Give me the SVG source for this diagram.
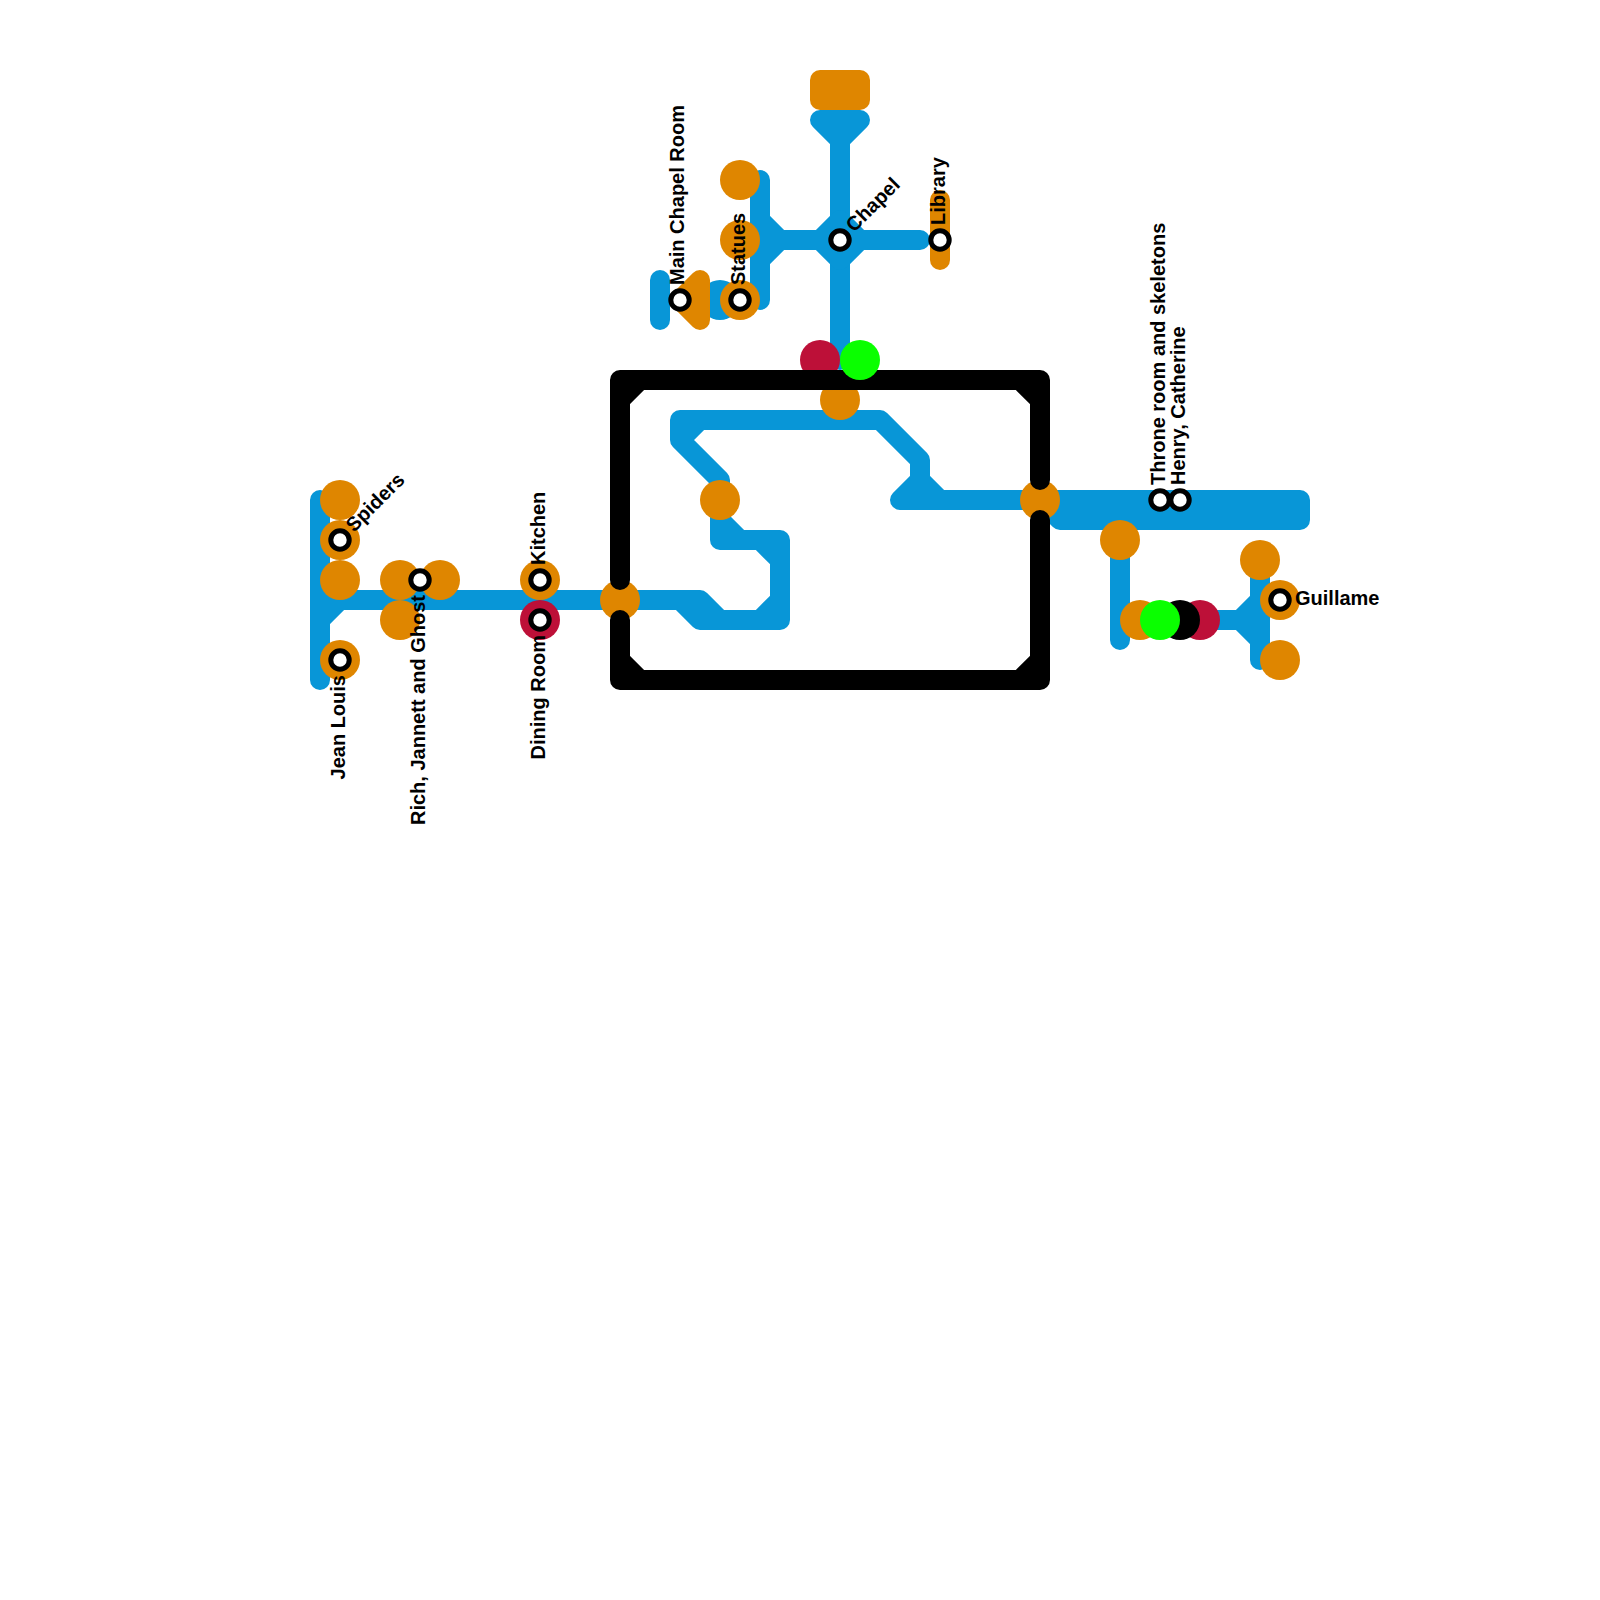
<svg xmlns="http://www.w3.org/2000/svg" width="1600" height="1600" viewBox="0 0 1600 1600">
<defs><style>
.l{fill:none;stroke-width:20;stroke-linecap:round;stroke-linejoin:round}
.b{stroke:#0896d7}.o{stroke:#df8600}.k{stroke:#000}
.co{fill:#df8600}.cr{fill:#bd1038}.cg{fill:#0aff00}.ck{fill:#000}.cb{fill:#0896d7}
.st{fill:#fff;stroke:#000;stroke-width:5}
text{font-family:"Liberation Sans",Arial,sans-serif;font-weight:bold;font-size:20px;fill:#000}
</style></defs>
<rect width="1600" height="1600" fill="#fff"/>
<g id="connectors-blue">
<circle class="cb" cx="720" cy="300" r="20"/>
<path class="l b" d="M660 280V320"/>
<path class="l b" d="M820 120H860L840 140ZM840 120V360"/>
<path class="l b" d="M760 180V300M760 220L780 240L760 260M760 240H920M840 220L820 240L840 260L860 240Z"/>
<path class="l b" d="M320 500V680M320 600H700L720 620H780V540H720V480L680 440V420H880L920 460V480L900 500H1040M340 600L320 620M680 600L700 620H720M780 600L760 620M760 540L780 560M720 520L740 540M700 420L680 440M920 480L940 500"/>
<path class="l b" d="M1040 500H1300V520H1060ZM1120 540V640M1200 620H1240L1260 600M1240 620L1260 640M1260 560V660"/>
</g>
<g id="connectors-orange">
<path class="l o co" d="M820 80H860V100H820Z" style="fill:#df8600"/>
<path class="l o co" d="M700 280L680 300L700 320Z" style="fill:#df8600"/>
<path class="l o" d="M940 200V260"/>
</g>
<g id="node-top-red"><circle class="cr" cx="820" cy="360" r="20"/></g>
<g id="node-top-orange"><circle class="co" cx="840" cy="400" r="20"/></g>
<g id="node-west-gate"><circle class="co" cx="620" cy="600" r="20"/></g>
<g id="node-east-gate"><circle class="co" cx="1040" cy="500" r="20"/></g>
<g id="connectors-black">
<path class="l k" d="M620 580V380H1040V480M1040 520V680H620V620M620 400L640 380M1020 380L1040 400M620 660L640 680M1040 660L1020 680"/>
</g>
<g id="node-top-green"><circle class="cg" cx="860" cy="360" r="20"/></g>
<g id="node-a1"><circle class="co" cx="740" cy="180" r="20"/></g>
<g id="node-a2"><circle class="co" cx="740" cy="240" r="20"/></g>
<g id="node-statues"><circle class="co" cx="740" cy="300" r="20"/><circle class="st" cx="740" cy="300" r="9.2"/></g>
<g id="node-main-chapel"><circle class="st" cx="680" cy="300" r="9.2"/></g>
<g id="node-chapel"><circle class="st" cx="840" cy="240" r="9.2"/></g>
<g id="node-library"><circle class="st" cx="940" cy="240" r="9.2"/></g>
<g id="node-b1"><circle class="co" cx="340" cy="500" r="20"/></g>
<g id="node-spiders"><circle class="co" cx="340" cy="540" r="20"/><circle class="st" cx="340" cy="540" r="9.2"/></g>
<g id="node-b2"><circle class="co" cx="340" cy="580" r="20"/></g>
<g id="node-jean-louis"><circle class="co" cx="340" cy="660" r="20"/><circle class="st" cx="340" cy="660" r="9.2"/></g>
<g id="node-c1"><circle class="co" cx="400" cy="580" r="20"/></g>
<g id="node-c2"><circle class="co" cx="440" cy="580" r="20"/></g>
<g id="node-c3"><circle class="co" cx="400" cy="620" r="20"/></g>
<g id="node-rich"><circle class="st" cx="420" cy="580" r="9.2"/></g>
<g id="node-kitchen"><circle class="co" cx="540" cy="580" r="20"/><circle class="st" cx="540" cy="580" r="9.2"/></g>
<g id="node-dining"><circle class="cr" cx="540" cy="620" r="20"/><circle class="st" cx="540" cy="620" r="9.2"/></g>
<g id="node-d1"><circle class="co" cx="720" cy="500" r="20"/></g>
<g id="node-throne"><circle class="st" cx="1160" cy="500" r="9.2"/></g>
<g id="node-henry"><circle class="st" cx="1180" cy="500" r="9.2"/></g>
<g id="node-e1"><circle class="co" cx="1120" cy="540" r="20"/></g>
<g id="node-e2"><circle class="co" cx="1140" cy="620" r="20"/></g>
<g id="node-e5"><circle class="cr" cx="1200" cy="620" r="20"/></g>
<g id="node-e4"><circle class="ck" cx="1180" cy="620" r="20"/></g>
<g id="node-e3"><circle class="cg" cx="1160" cy="620" r="20"/></g>
<g id="node-f1"><circle class="co" cx="1260" cy="560" r="20"/></g>
<g id="node-guillame"><circle class="co" cx="1280" cy="600" r="20"/><circle class="st" cx="1280" cy="600" r="9.2"/></g>
<g id="node-f2"><circle class="co" cx="1280" cy="660" r="20"/></g>
<g id="labels">
<text transform="translate(684 285) rotate(-90)">Main Chapel Room</text>
<text transform="translate(745 285) rotate(-90)">Statues</text>
<text transform="translate(945 225) rotate(-90)">Library</text>
<text transform="translate(545 565) rotate(-90)">Kitchen</text>
<text transform="translate(1165 485) rotate(-90)">Throne room and skeletons</text>
<text transform="translate(1185 485) rotate(-90)">Henry, Catherine</text>
<text transform="translate(345 675) rotate(-90)" text-anchor="end">Jean Louis</text>
<text transform="translate(425 595) rotate(-90)" text-anchor="end">Rich, Jannett and Ghost</text>
<text transform="translate(545 635) rotate(-90)" text-anchor="end">Dining Room</text>
<text transform="translate(354 533) rotate(-45)">Spiders</text>
<text transform="translate(854 233) rotate(-45)">Chapel</text>
<text x="1295" y="605">Guillame</text>
</g>
</svg>
